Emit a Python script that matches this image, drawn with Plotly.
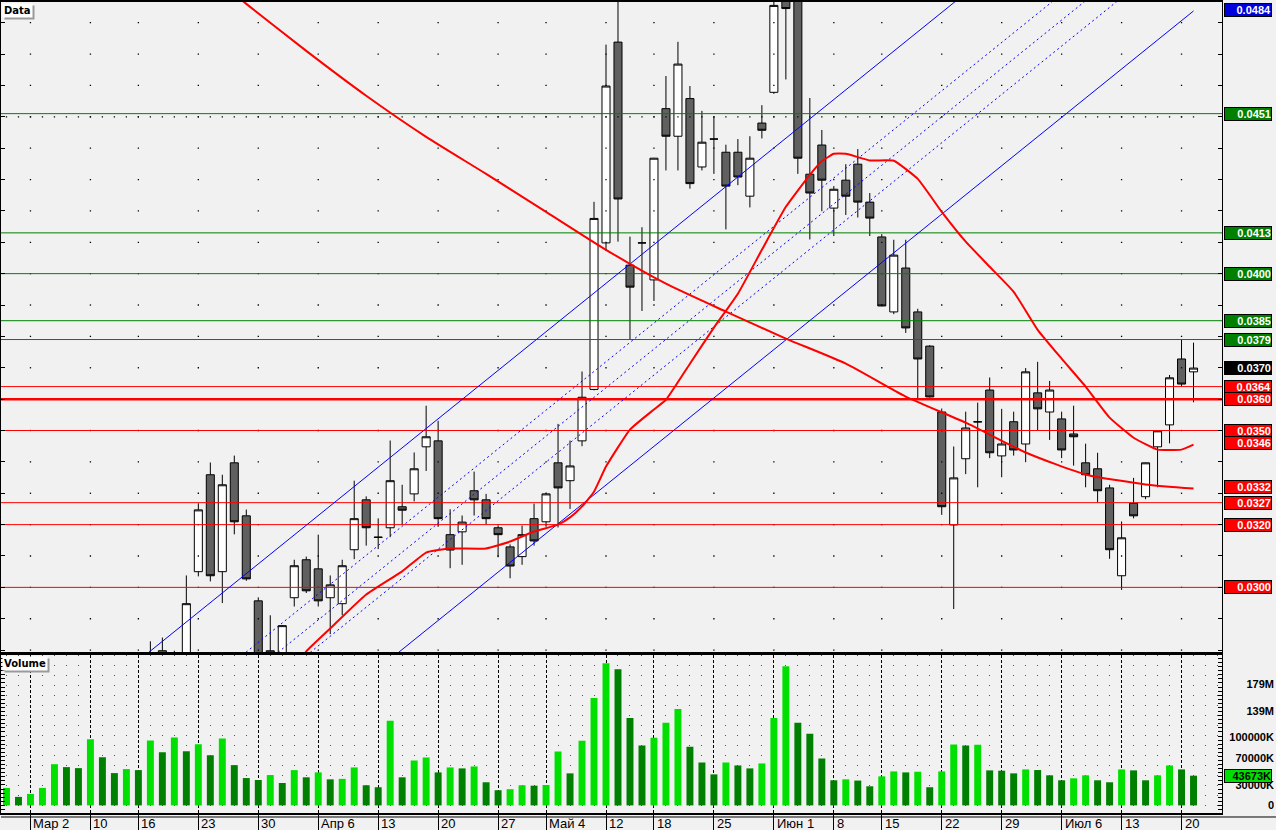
import plotly.graph_objects as go

# ---------------- data ----------------
tick_idx = [2, 7, 11, 16, 21, 26, 31, 36, 41, 45, 50, 54, 59, 64, 69, 73, 78, 83, 88, 93, 98]
tick_text = ["Мар 2", "10", "16", "23", "30", "Апр 6", "13", "20", "27", "Май 4", "12",
             "18", "25", "Июн 1", "8", "15", "22", "29", "Июл 6", "13", "20"]

opens = [0.0250, 0.0252, 0.0249, 0.0246, 0.0256, 0.0263, 0.0259, 0.0261, 0.0270, 0.0265,
         0.0267, 0.0271, 0.0268, 0.02798, 0.0270, 0.0274, 0.03050, 0.03359, 0.03050, 0.03397,
         0.03228, 0.02957, 0.0277, 0.0278, 0.02967, 0.03088, 0.03059, 0.02967, 0.02948, 0.03120,
         0.03279, 0.03159, 0.03190, 0.03257, 0.03298, 0.03448, 0.03467, 0.03168, 0.03177, 0.03308,
         0.03279, 0.03190, 0.03129, 0.03098, 0.03219, 0.03209, 0.03397, 0.03340, 0.03467, 0.03631,
         0.04098, 0.04738, 0.04027, 0.04098, 0.03980, 0.04526, 0.04438, 0.04558, 0.04340, 0.04429,
         0.04387, 0.04387, 0.04247, 0.04480, 0.04578, 0.04900, 0.04880, 0.04317, 0.04410, 0.04209,
         0.04298, 0.04349, 0.04228, 0.04117, 0.03878, 0.04018, 0.03878, 0.03769, 0.03559, 0.03199,
         0.03410, 0.03527, 0.03629, 0.03419, 0.03528, 0.03457, 0.03620, 0.03559, 0.03537, 0.03489,
         0.03397, 0.03378, 0.03317, 0.03037, 0.03268, 0.03289, 0.03448, 0.03518, 0.03728, 0.03687]
highs = [0.0256, 0.0257, 0.0255, 0.0258, 0.0266, 0.0268, 0.0264, 0.0272, 0.0274, 0.0269,
         0.0275, 0.0274, 0.02828, 0.02840, 0.02798, 0.03038, 0.03268, 0.03398, 0.03359, 0.03420,
         0.03248, 0.02968, 0.02911, 0.02880, 0.03088, 0.03098, 0.03168, 0.03038, 0.03088, 0.03340,
         0.03290, 0.03220, 0.03468, 0.03327, 0.03430, 0.03579, 0.03531, 0.03249, 0.03229, 0.03369,
         0.03298, 0.03197, 0.03137, 0.03197, 0.03267, 0.03299, 0.03521, 0.03468, 0.03688, 0.04229,
         0.04730, 0.04880, 0.04118, 0.04148, 0.04369, 0.04630, 0.04739, 0.04598, 0.04519, 0.04500,
         0.04411, 0.04429, 0.04438, 0.04537, 0.04900, 0.04950, 0.04920, 0.04560, 0.04458, 0.04279,
         0.04349, 0.04397, 0.04257, 0.04126, 0.04108, 0.04108, 0.03888, 0.03772, 0.03570, 0.03449,
         0.03560, 0.03589, 0.03669, 0.03569, 0.03560, 0.03699, 0.03719, 0.03658, 0.03560, 0.03579,
         0.03458, 0.03429, 0.03327, 0.03210, 0.03349, 0.03398, 0.03500, 0.03677, 0.03789, 0.03780]
lows = [0.0246, 0.0247, 0.0243, 0.0244, 0.0254, 0.0257, 0.0255, 0.0259, 0.0263, 0.0261,
        0.0264, 0.0265, 0.0264, 0.0268, 0.0266, 0.0271, 0.03035, 0.03019, 0.02950, 0.03169,
        0.03021, 0.0272, 0.0273, 0.0276, 0.02939, 0.02982, 0.02939, 0.02851, 0.02911, 0.03090,
        0.03133, 0.03122, 0.03160, 0.03199, 0.03274, 0.03371, 0.03193, 0.03061, 0.03072, 0.03229,
        0.03200, 0.03096, 0.03029, 0.03072, 0.03133, 0.03193, 0.03191, 0.03250, 0.03450, 0.03628,
        0.04072, 0.04102, 0.03789, 0.03881, 0.03913, 0.04329, 0.04329, 0.04271, 0.04329, 0.04318,
        0.04141, 0.04282, 0.04211, 0.04431, 0.04573, 0.04619, 0.04318, 0.04109, 0.04199, 0.04120,
        0.04187, 0.04179, 0.04120, 0.03896, 0.03871, 0.03811, 0.03601, 0.03605, 0.03231, 0.02931,
        0.03361, 0.03319, 0.03412, 0.03351, 0.03420, 0.03399, 0.03501, 0.03470, 0.03412, 0.03388,
        0.03319, 0.03271, 0.03091, 0.02992, 0.03220, 0.03281, 0.03319, 0.03459, 0.03642, 0.03590]
closes = [0.0252, 0.0249, 0.0246, 0.0256, 0.0263, 0.0259, 0.0261, 0.0270, 0.0265, 0.0267,
          0.0271, 0.0268, 0.0275, 0.0272, 0.0276, 0.02948, 0.03247, 0.03037, 0.03327, 0.03209,
          0.03027, 0.0276, 0.02798, 0.02878, 0.03069, 0.02989, 0.02957, 0.03008, 0.03069, 0.03219,
          0.03190, 0.03160, 0.03340, 0.03246, 0.03378, 0.03480, 0.03219, 0.03119, 0.03208, 0.03279,
          0.03219, 0.03168, 0.03068, 0.03168, 0.03148, 0.03298, 0.03317, 0.03387, 0.03606, 0.04176,
          0.04598, 0.04238, 0.03957, 0.04098, 0.04368, 0.04438, 0.04668, 0.04287, 0.04419, 0.04429,
          0.04279, 0.04308, 0.04368, 0.04457, 0.04855, 0.04845, 0.04368, 0.04257, 0.04298, 0.04269,
          0.04247, 0.04228, 0.04177, 0.03897, 0.04059, 0.03827, 0.03728, 0.03607, 0.03257, 0.03349,
          0.03508, 0.03528, 0.03429, 0.03457, 0.03438, 0.03687, 0.03569, 0.03629, 0.03438, 0.03480,
          0.03359, 0.03308, 0.03120, 0.03158, 0.03228, 0.03397, 0.03499, 0.03668, 0.03648, 0.03699]

# volume in millions
volume_m = [25.7, 12.5, 16.9, 25.7, 60.6, 56.3, 54.8, 97.1, 70.8, 47.5,
            53.4, 51.9, 95.6, 78.1, 100.0, 79.6, 89.8, 73.8, 98.5, 59.2,
            40.2, 37.3, 44.6, 32.9, 51.9, 41.3, 48.5, 38.3, 39.0, 55.8,
            29.6, 26.7, 124.3, 41.3, 66.0, 70.4, 48.5, 55.8, 54.4, 57.3,
            34.0, 22.3, 23.8, 29.6, 29.0, 30.0, 79.2, 47.1, 95.2, 157.9,
            208.9, 200.1, 128.7, 87.9, 99.6, 121.4, 141.8, 86.4, 63.1, 45.6,
            63.1, 58.7, 54.4, 61.7, 128.7, 204.5, 121.4, 105.4, 68.9, 36.9,
            38.3, 36.5, 28.1, 42.7, 50.0, 48.5, 49.5, 26.7, 50.0, 89.4,
            87.9, 89.0, 51.5, 51.0, 47.1, 52.9, 52.0, 44.2, 36.9, 39.8,
            44.2, 36.9, 34.0, 52.9, 51.5, 36.9, 44.2, 58.7, 52.9, 43.673]

# moving averages
ma_long_idx = [19, 20, 25, 30, 35, 40, 45, 50, 55, 60, 65, 70, 75, 80, 85, 90, 95, 99]
ma_long = [0.04891, 0.04860, 0.04710, 0.04567, 0.04436, 0.04318, 0.04197, 0.04076, 0.03968,
           0.03879, 0.03793, 0.03713, 0.03608, 0.03525, 0.03430, 0.03360, 0.03328, 0.03315]
ma_short_idx = [24, 25, 27, 30, 33, 35, 37, 40, 42, 44, 46, 47, 48, 49, 50, 52, 54, 55, 57, 59,
                61, 63, 65, 67, 68, 69, 70, 72, 74, 76, 78, 80, 82, 84, 86, 88, 90, 92, 94, 96, 98, 99]
ma_short = [0.02748, 0.02796, 0.02869, 0.02977, 0.03051, 0.03111, 0.03124, 0.03124, 0.03146, 0.03178,
            0.03200, 0.03223, 0.03258, 0.03305, 0.03385, 0.03503, 0.03567, 0.03598, 0.03713, 0.03828,
            0.03936, 0.04076, 0.04213, 0.04315, 0.04358, 0.04382, 0.04382, 0.04361, 0.04360, 0.04302,
            0.04197, 0.04102, 0.04022, 0.03942, 0.03821, 0.03729, 0.03640, 0.03541, 0.03477, 0.03439,
            0.03439, 0.03455]

# trend channel (start index, start price, end index, end price)
channel_solid = [(10, 0.027354, 99, 0.054803), (20, 0.024010, 99, 0.048373)]
channel_dashed = [(19, 0.027631, 99, 0.052303), (22, 0.027728, 99, 0.051475), (25, 0.027825, 99, 0.050647)]

green_levels = [0.0451, 0.0413, 0.0400, 0.0385, 0.0379]
red_levels = [0.0364, 0.0350, 0.0327, 0.0320, 0.0300]
main_level = 0.0360

price_labels = [(0.0484, "#0000dd"), (0.0451, "#008000"), (0.0413, "#008000"), (0.0400, "#008000"),
                (0.0385, "#008000"), (0.0379, "#008000"), (0.0370, "#000000"), (0.0364, "#ff0000"),
                (0.0360, "#ff0000"), (0.0350, "#ff0000"), (0.0346, "#ff0000"), (0.0332, "#ff0000"),
                (0.0327, "#ff0000"), (0.0320, "#ff0000"), (0.0300, "#ff0000")]
vol_tick_vals = [179, 139, 100, 70, 30, 0]
vol_tick_text = ["179M", "139M", "100000K", "70000K", "30000K", "0"]
last_vol_text = "43673K"

grid_levels = [round(0.028 + 0.001 * k, 3) for k in range(21)]
grid_rows = [0.045]

# ---------------- figure ----------------
N = len(opens)
idx = list(range(N))
XR = [-0.458, 101.375]
PR = [0.027927, 0.048659]
VR = [-11.2, 220.6]
BG = "#f1f1f1"

fig = go.Figure()

# grid dots
gx, gy = [], []
for t in tick_idx:
    for lv in grid_levels:
        gx.append(t); gy.append(lv)
for lv in grid_rows:
    for i in idx:
        gx.append(i); gy.append(lv)
fig.add_trace(go.Scatter(x=gx, y=gy, mode="markers", marker=dict(symbol="square", size=1.3, color="black"),
                         hoverinfo="skip", showlegend=False, xaxis="x", yaxis="y"))

# horizontal levels
for lv in green_levels:
    fig.add_trace(go.Scatter(x=XR, y=[lv, lv], mode="lines", line=dict(color="#008000", width=1),
                             hoverinfo="skip", showlegend=False))
for lv in red_levels:
    fig.add_trace(go.Scatter(x=XR, y=[lv, lv], mode="lines", line=dict(color="#ff0000", width=1),
                             hoverinfo="skip", showlegend=False))
fig.add_trace(go.Scatter(x=XR, y=[main_level, main_level], mode="lines", line=dict(color="#ff0000", width=2.5),
                         hoverinfo="skip", showlegend=False))

# channel lines
for (i0, p0, i1, p1) in channel_solid:
    fig.add_trace(go.Scatter(x=[i0, i1], y=[p0, p1], mode="lines", line=dict(color="#0000ff", width=1),
                             hoverinfo="skip", showlegend=False))
for (i0, p0, i1, p1) in channel_dashed:
    fig.add_trace(go.Scatter(x=[i0, i1], y=[p0, p1], mode="lines",
                             line=dict(color="#0000ff", width=1, dash="2px,3px"),
                             hoverinfo="skip", showlegend=False))

# moving averages
fig.add_trace(go.Scatter(x=ma_long_idx, y=ma_long, mode="lines",
                         line=dict(color="#ff0000", width=2, shape="spline", smoothing=0.6),
                         hoverinfo="skip", showlegend=False))
fig.add_trace(go.Scatter(x=ma_short_idx, y=ma_short, mode="lines",
                         line=dict(color="#ff0000", width=2, shape="spline", smoothing=0.4),
                         hoverinfo="skip", showlegend=False))

# candles
fig.add_trace(go.Candlestick(x=idx, open=opens, high=highs, low=lows, close=closes,
                             increasing=dict(line=dict(color="black", width=1), fillcolor="white"),
                             decreasing=dict(line=dict(color="black", width=1), fillcolor="#606060"),
                             whiskerwidth=0, showlegend=False, xaxis="x", yaxis="y"))

# volume
vcolors = ["#00e000" if (i == 0 or volume_m[i] > volume_m[i - 1]) else "#008000" for i in idx]
fig.add_trace(go.Bar(x=idx, y=volume_m, width=0.58, marker=dict(color=vcolors, line=dict(width=0)),
                     showlegend=False, xaxis="x2", yaxis="y2"))

H_PLOT = 813.0
price_bottom = (813 - 652) / H_PLOT
vol_top = (813 - 655) / H_PLOT

fig.update_layout(
    width=1276, height=830,
    margin=dict(l=0, r=54, t=0, b=17),
    paper_bgcolor=BG, plot_bgcolor=BG,
    boxgap=0.33, boxgroupgap=0,
    showlegend=False,
    xaxis=dict(domain=[0, 1], range=XR, showgrid=False, zeroline=False, showticklabels=False,
               showline=True, linecolor="black", linewidth=2, mirror=True, ticks="",
               rangeslider=dict(visible=False), anchor="y", fixedrange=True),
    yaxis=dict(domain=[price_bottom, 1], range=PR, showgrid=False, zeroline=False, showticklabels=False,
               showline=True, linecolor="black", linewidth=1, mirror="ticks", ticks="inside",
               ticklen=4, tickcolor="black", dtick=0.001, tick0=0, side="right", anchor="x"),
    xaxis2=dict(domain=[0, 1], range=XR, zeroline=False, showticklabels=False,
                showline=True, linecolor="black", linewidth=2, mirror=True,
                tickmode="array", tickvals=tick_idx, ticks="outside", ticklen=17, tickcolor="black",
                showgrid=True, gridcolor="black", gridwidth=1, griddash="3px,2px",
                minor=dict(dtick=1, tick0=0, showgrid=True, gridcolor="#555555", gridwidth=1,
                           griddash="1px,9px", ticks=""),
                anchor="y2"),
    yaxis2=dict(domain=[0, vol_top], range=VR, showgrid=False, zeroline=False, showticklabels=False,
                showline=True, linecolor="black", linewidth=1, mirror="ticks", ticks="inside",
                ticklen=4, tickcolor="black", dtick=6, tick0=0, side="right", anchor="x2"),
)

ann = []
# x tick labels
for t, s in zip(tick_idx, tick_text):
    ann.append(dict(x=t, y=-10.5 / H_PLOT, xref="x2", yref="paper", text=s, showarrow=False,
                    xanchor="left", yanchor="middle", xshift=1,
                    font=dict(family="Liberation Sans, Arial", size=13, color="black")))
# price labels
for v, c in price_labels:
    ann.append(dict(x=1, y=v, xref="paper", yref="y", text="<b>%.4f</b>" % v, showarrow=False,
                    xanchor="left", yanchor="middle", xshift=2, width=46, height=12, align="right",
                    bgcolor=c, bordercolor="black", borderwidth=1, borderpad=0,
                    font=dict(family="Liberation Sans, Arial", size=11, color="white")))
# volume labels
for v, s in zip(vol_tick_vals, vol_tick_text):
    ann.append(dict(x=1, y=v, xref="paper", yref="y2", text="<b>%s</b>" % s, showarrow=False,
                    xanchor="left", yanchor="middle", xshift=2, width=48, height=12, align="right",
                    font=dict(family="Liberation Sans, Arial", size=11, color="black")))
ann.append(dict(x=1, y=volume_m[-1], xref="paper", yref="y2", text="<b>%s</b>" % last_vol_text,
                showarrow=False, xanchor="left", yanchor="middle", xshift=2, width=46, height=12,
                align="right", bgcolor="#00e000", bordercolor="black", borderwidth=1, borderpad=0,
                font=dict(family="Liberation Sans, Arial", size=11, color="black")))
# pane titles
for txt, yy in [("Data", 1.0), ("Volume", vol_top)]:
    ann.append(dict(x=0, y=yy, xref="paper", yref="paper", text="<b>%s</b>" % txt, showarrow=False,
                    xanchor="left", yanchor="top", xshift=3, yshift=-3, bgcolor="#9a9a9a",
                    borderpad=1, font=dict(family="DejaVu Sans", size=10, color="#9a9a9a")))
    ann.append(dict(x=0, y=yy, xref="paper", yref="paper", text="<b>%s</b>" % txt, showarrow=False,
                    xanchor="left", yanchor="top", xshift=1, yshift=-1, bgcolor="white",
                    borderpad=1, font=dict(family="DejaVu Sans", size=10, color="black")))
fig.update_layout(annotations=ann)

# frame line under the x-axis band
fig.add_shape(type="line", xref="paper", yref="paper", x0=0, x1=1276 / 1222, y0=-4 / H_PLOT, y1=-4 / H_PLOT,
              line=dict(color="black", width=1))

fig.write_html("out.html", config={"displayModeBar": False},
               post_script="document.body.style.margin='0px';document.body.style.overflow='hidden';")
